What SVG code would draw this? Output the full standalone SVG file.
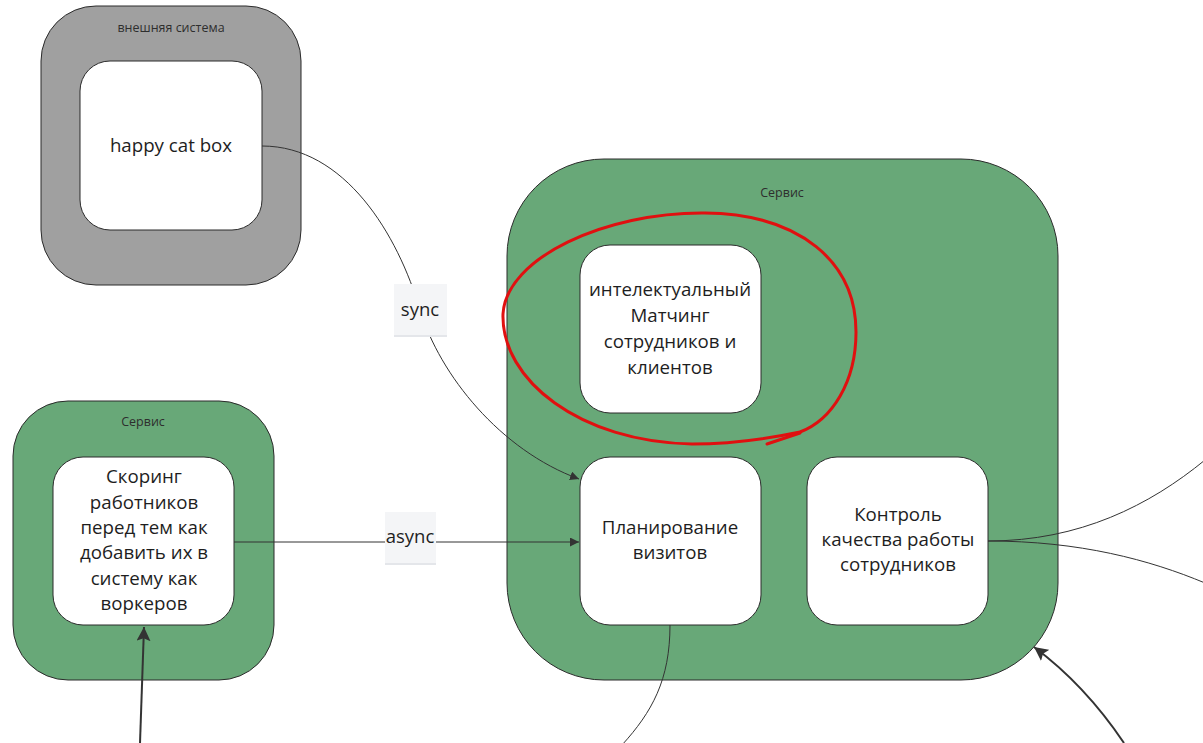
<svg xmlns="http://www.w3.org/2000/svg" width="1203" height="743" viewBox="0 0 1203 743">
<style>
.cont{stroke:#2b2b2b;stroke-width:1}
.grey{fill:#a0a0a0}
.green{fill:#68a878}
.node{fill:#ffffff;stroke:#2b2b2b;stroke-width:1}
.ctitle{font-family:"Open Sans","Noto Sans",sans-serif;font-size:12.5px;fill:#2e2e2e;text-anchor:middle}
.ntext{font-family:"Open Sans","Noto Sans",sans-serif;font-size:18.7px;fill:#1e1e1e;text-anchor:middle}
.edge{fill:none;stroke:#333;stroke-width:1}
.thick{fill:none;stroke:#333;stroke-width:2}
.lbox{fill:#f4f5f7}
.lshadow{fill:#e4e6ea}
.ltext{font-family:"Open Sans","Noto Sans",sans-serif;font-size:18.5px;fill:#1e1e1e;text-anchor:middle}
</style>
<defs>
<marker id="arr" viewBox="0 0 10 10" refX="10" refY="5" markerWidth="9" markerHeight="9" markerUnits="userSpaceOnUse" orient="auto">
<path d="M0,0 L10,5 L0,10 z" fill="#333"/>
</marker>
<marker id="arrB" viewBox="0 0 10 10" refX="10" refY="5" markerWidth="14" markerHeight="14" markerUnits="userSpaceOnUse" orient="auto">
<path d="M0,0 L10,5 L0,10 L2,5 z" fill="#333"/>
</marker>
</defs>
<rect width="1203" height="743" fill="#ffffff"/>

<g id="external-system">
<rect class="cont grey" x="41" y="6" width="260" height="279" rx="55" ry="55"/>
<text class="ctitle" x="171" y="32">внешняя система</text>
</g>
<g id="node-happy-cat-box">
<rect class="node" x="80" y="61" width="182" height="169" rx="30" ry="30"/>
<text class="ntext" x="171" y="152">happy cat box</text>
</g>

<g id="service-left">
<rect class="cont green" x="13" y="401" width="261" height="279" rx="55" ry="55"/>
<text class="ctitle" x="143" y="426">Сервис</text>
</g>
<g id="node-scoring">
<rect class="node" x="53" y="457" width="181" height="168" rx="30" ry="30"/>
<text class="ntext" x="144" y="483">Скоринг</text>
<text class="ntext" x="144" y="509">работников</text>
<text class="ntext" x="144" y="534">перед тем как</text>
<text class="ntext" x="144" y="559">добавить их в</text>
<text class="ntext" x="144" y="585">систему как</text>
<text class="ntext" x="144" y="610">воркеров</text>
</g>

<g id="service-main">
<rect class="cont green" x="507" y="159" width="551" height="521" rx="97" ry="97"/>
<text class="ctitle" x="782" y="197">Сервис</text>
</g>
<g id="node-matching">
<rect class="node" x="580" y="245" width="181" height="168" rx="30" ry="30"/>
<text class="ntext" x="670" y="296">интелектуальный</text>
<text class="ntext" x="670" y="322">Матчинг</text>
<text class="ntext" x="670" y="348">сотрудников и</text>
<text class="ntext" x="670" y="374">клиентов</text>
</g>
<g id="node-planning">
<rect class="node" x="580" y="457" width="181" height="168" rx="30" ry="30"/>
<text class="ntext" x="670" y="534">Планирование</text>
<text class="ntext" x="670" y="559">визитов</text>
</g>
<g id="node-quality">
<rect class="node" x="807" y="457" width="181" height="168" rx="30" ry="30"/>
<text class="ntext" x="898" y="521">Контроль</text>
<text class="ntext" x="898" y="546">качества работы</text>
<text class="ntext" x="898" y="571">сотрудников</text>
</g>

<g id="connectors">
<path class="edge" d="M262,146 C345,146 398,235 420,310 C440,375 500,450 579,479" marker-end="url(#arr)"/>
<rect class="lshadow" x="394" y="285" width="53" height="52"/>
<rect class="lbox" x="394" y="284" width="53" height="51"/>
<text class="ltext" x="420" y="316">sync</text>

<path class="edge" d="M234,542 L579,542" marker-end="url(#arr)"/>
<rect class="lshadow" x="385" y="513" width="51" height="52"/>
<rect class="lbox" x="385" y="512" width="51" height="51"/>
<text class="ltext" x="410" y="543">async</text>

<path class="thick" d="M140,743 L144,627" marker-end="url(#arrB)"/>
<path class="thick" d="M1124,743 Q1085,685 1034,647" marker-end="url(#arrB)"/>
<path class="edge" d="M670,625 C670,680 652,712 622,745"/>
<path class="edge" d="M988,541 C1080,541 1150,505 1205,460"/>
<path class="edge" d="M988,541 C1080,541 1150,560 1205,583"/>
</g>

<g id="annotation">
<path d="M800,432 C832,420 856,382 856,332 C856,262 800,214 705,213 C605,212 506,258 503,314 C501,380 580,442 692,444 C730,444 762,440 800,432" fill="none" stroke="#e01010" stroke-width="3" stroke-linecap="round" stroke-linejoin="round"/>
<path d="M767,444 L800,433" fill="none" stroke="#e01010" stroke-width="3" stroke-linecap="round"/>
</g>
</svg>
